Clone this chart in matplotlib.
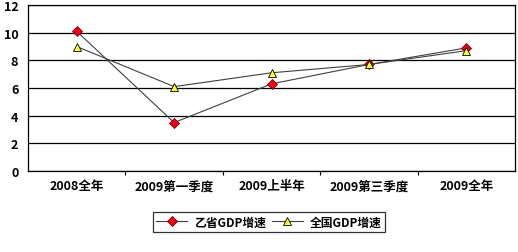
import matplotlib
matplotlib.use('Agg')
import matplotlib.pyplot as plt

plt.rcParams['font.family'] = ['Noto Sans CJK SC', 'DejaVu Sans']

categories = ['2008全年', '2009第一季度', '2009上半年', '2009第三季度', '2009全年']
province = [10.1, 3.5, 6.3, 7.7, 8.9]
national = [9.0, 6.1, 7.1, 7.7, 8.7]
series_names = ['乙省GDP增速', '全国GDP增速']

fig = plt.figure(figsize=(5.18, 2.53), dpi=100)
ax = fig.add_axes([28/518, 81/253, 487/518, 166/253])

x = range(len(categories))
ax.plot(x, province, color='#404040', lw=0.8, marker='D', ms=5,
        mfc='#e8001c', mec='#800000', mew=0.6, label=series_names[0], zorder=3)
ax.plot(x, national, color='#404040', lw=0.8, marker='^', ms=6,
        mfc='#ffff30', mec='black', mew=0.6, label=series_names[1], zorder=3)

ax.set_xlim(-0.5, len(categories) - 0.5)
ax.set_ylim(0, 12)
ax.set_yticks(range(0, 13, 2))
ax.set_yticklabels([str(v) for v in range(0, 13, 2)], fontsize=9, fontweight='bold')
ax.yaxis.set_tick_params(length=0, pad=7)
ax.set_xticks(list(x))
ax.set_xticklabels(categories, fontsize=9, fontweight='bold')
ax.set_xticks([i + 0.5 for i in range(len(categories) - 1)], minor=True)
ax.xaxis.set_tick_params(which='major', length=0, pad=6)
ax.xaxis.set_tick_params(which='minor', length=3, width=0.8)
ax.grid(axis='y', color='black', lw=0.9)
ax.set_axisbelow(True)
for s in ax.spines.values():
    s.set_linewidth(0.9)

leg = fig.legend(loc='center', bbox_to_anchor=(269/518, 1 - 223/253), ncol=2,
                 frameon=True, fancybox=False, edgecolor='black',
                 handlelength=2.6, columnspacing=0.5, handletextpad=0.6,
                 borderpad=0.3, prop={'weight': 'bold', 'size': 8.5})
leg.get_frame().set_linewidth(0.9)

fig.savefig('out.png', dpi=100)
